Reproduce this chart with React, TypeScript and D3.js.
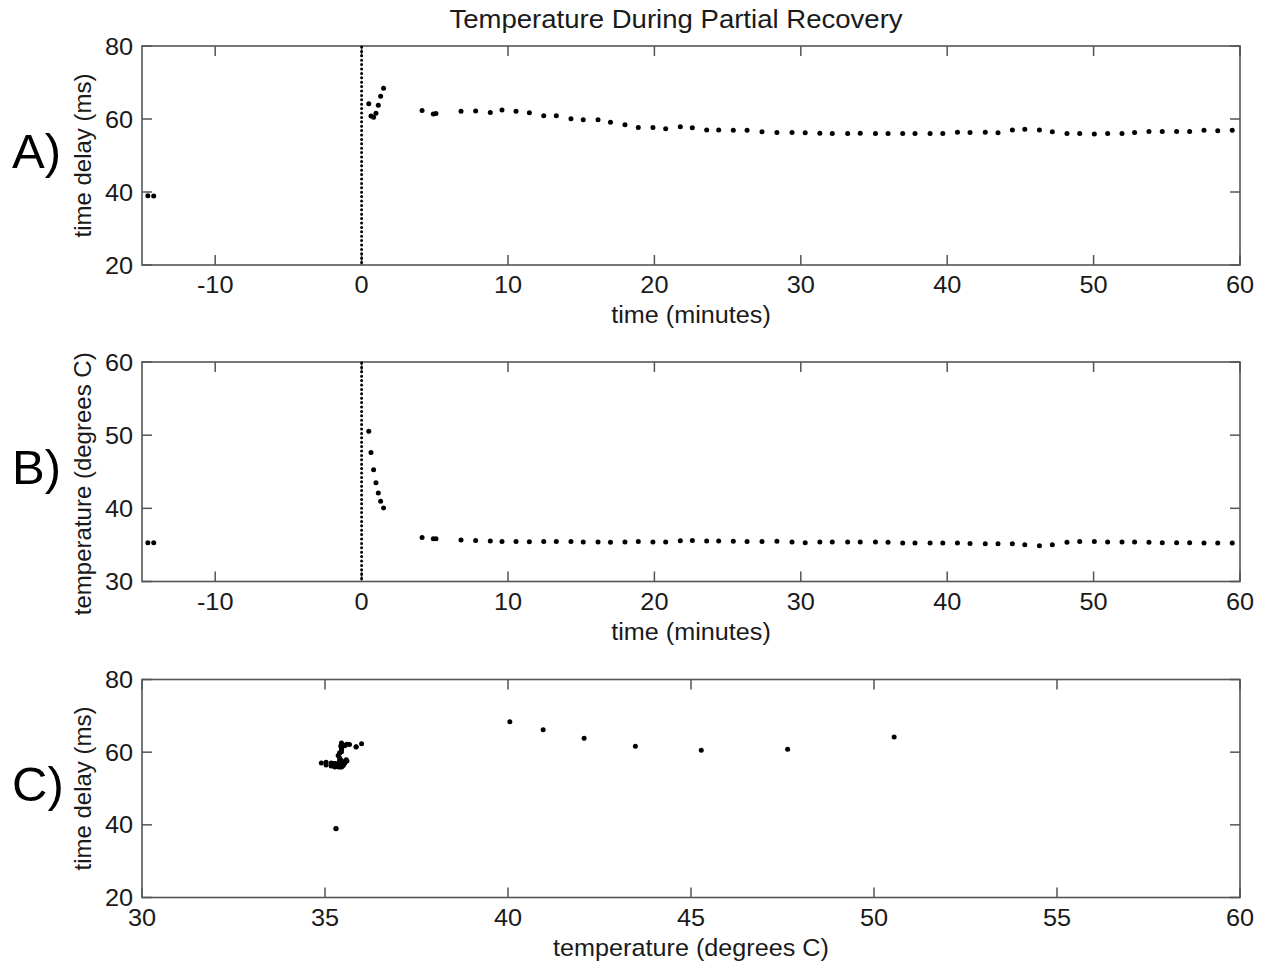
import React from "react";
import * as d3 from "d3";

// ---- data ----
const times: number[] = [
  -14.6, -14.2,
  0.49, 0.64, 0.82, 0.98, 1.14, 1.3, 1.5,
  4.13, 4.9, 5.08, 6.79, 7.79, 8.79, 9.59, 10.55, 11.46, 12.44,
  13.3, 14.3, 15.14, 16.15, 17.0, 17.99, 18.9, 19.9, 20.77, 21.77,
  22.59, 23.57, 24.39, 25.39, 26.33, 27.35, 28.37, 29.4, 30.3, 31.3,
  32.15, 33.2, 34.06, 35.1, 35.96, 36.96, 37.8, 38.83, 39.7, 40.7,
  41.56, 42.6, 43.47, 44.45, 45.3, 46.3, 47.18, 48.18, 49.05, 50.05,
  50.96, 51.94, 52.8, 53.78, 54.69, 55.67, 56.56, 57.54, 58.48, 59.47,
];

const timeDelay: number[] = [
  39.0, 38.9,
  64.2, 60.8, 60.5, 61.6, 63.8, 66.2, 68.4,
  62.3, 61.4, 61.5, 62.1, 62.2, 61.8, 62.5, 62.1, 61.7, 60.9,
  60.9, 60.1, 59.8, 59.8, 59.1, 58.4, 57.7, 57.7, 57.3, 57.9,
  57.6, 57.0, 57.0, 56.9, 56.9, 56.5, 56.3, 56.3, 56.2, 56.1,
  56.0, 56.0, 56.1, 56.0, 56.0, 56.0, 56.0, 56.0, 56.0, 56.4,
  56.3, 56.4, 56.2, 57.0, 57.2, 57.0, 56.5, 56.0, 56.0, 55.9,
  56.0, 56.0, 56.3, 56.6, 56.6, 56.6, 56.6, 56.9, 56.8, 56.9,
];

const temperature: number[] = [
  35.3, 35.3,
  50.55, 47.64, 45.28, 43.48, 42.08, 40.96, 40.05,
  36.0, 35.85, 35.85, 35.67, 35.6, 35.54, 35.45, 35.48, 35.43, 35.45,
  35.45, 35.45, 35.4, 35.4, 35.36, 35.4, 35.45, 35.4, 35.4, 35.58,
  35.6, 35.54, 35.54, 35.5, 35.45, 35.45, 35.5, 35.4, 35.3, 35.4,
  35.4, 35.4, 35.4, 35.4, 35.35, 35.27, 35.27, 35.27, 35.27, 35.27,
  35.2, 35.17, 35.17, 35.17, 35.03, 34.9, 35.03, 35.36, 35.45, 35.45,
  35.4, 35.4, 35.4, 35.36, 35.3, 35.3, 35.3, 35.27, 35.27, 35.27,
];

const timeTicks: number[] = [-10, 0, 10, 20, 30, 40, 50, 60];
const delayTicks: number[] = [20, 40, 60, 80];
const tempTicks: number[] = [30, 40, 50, 60];
const tempXTicks: number[] = [30, 35, 40, 45, 50, 55, 60];
const markerTime = 0;

const TITLE = "Temperature During Partial Recovery";

// ---- layout ----
const W = 1271;
const H = 967;
const LEFT = 142;
const RIGHT = 1240;
const FONT = "'Liberation Sans', Arial, Helvetica, sans-serif";
const AXIS_COLOR = "#555";
const TEXT_COLOR = "#1a1a1a";
const SX = 1.1; // horizontal stretch of the reference's lettering

type Pt = { x: number; y: number };

function HText(props: { x: number; y: number; size: number; anchor?: string; sx?: number; children: React.ReactNode; fill?: string }) {
  const sx = props.sx ?? SX;
  return (
    <text
      transform={`translate(${props.x},${props.y}) scale(${sx},1)`}
      textAnchor={props.anchor ?? "start"}
      fontSize={props.size}
      fontFamily={FONT}
      fill={props.fill ?? TEXT_COLOR}
    >
      {props.children}
    </text>
  );
}

interface PanelProps {
  top: number;
  bottom: number;
  xDomain: [number, number];
  yDomain: [number, number];
  xTicks: number[];
  yTicks: number[];
  points: Pt[];
  xLabel: string;
  yLabel: string;
  yLabelShift?: number;
  letter: string;
  vline?: number;
}

function Panel(p: PanelProps) {
  const x = d3.scaleLinear().domain(p.xDomain).range([LEFT, RIGHT]);
  const y = d3.scaleLinear().domain(p.yDomain).range([p.bottom, p.top]);
  const tl = 10;
  const cy = (p.top + p.bottom) / 2;
  return (
    <g>
      {p.xTicks.map((t) => (
        <g key={"xt" + t}>
          <line x1={x(t)} x2={x(t)} y1={p.bottom} y2={p.bottom - tl} stroke={AXIS_COLOR} strokeWidth={1.5} />
          <line x1={x(t)} x2={x(t)} y1={p.top} y2={p.top + tl} stroke={AXIS_COLOR} strokeWidth={1.5} />
          <HText x={x(t)} y={p.bottom + 28} size={23} anchor="middle">
            {String(t)}
          </HText>
        </g>
      ))}
      {p.yTicks.map((t) => (
        <g key={"yt" + t}>
          <line x1={LEFT} x2={LEFT + tl} y1={y(t)} y2={y(t)} stroke={AXIS_COLOR} strokeWidth={1.5} />
          <line x1={RIGHT} x2={RIGHT - tl} y1={y(t)} y2={y(t)} stroke={AXIS_COLOR} strokeWidth={1.5} />
          <HText x={133} y={y(t) + 8.5} size={23} anchor="end">
            {String(t)}
          </HText>
        </g>
      ))}
      <rect x={LEFT} y={p.top} width={RIGHT - LEFT} height={p.bottom - p.top} fill="none" stroke={AXIS_COLOR} strokeWidth={1.6} />
      {p.vline !== undefined && (
        <line
          x1={x(p.vline)}
          x2={x(p.vline)}
          y1={p.top + 1}
          y2={p.bottom}
          stroke="#000"
          strokeWidth={3}
          strokeLinecap="round"
          strokeDasharray="0 4.4"
        />
      )}
      {p.points.map((d, i) => (
        <circle key={i} cx={x(d.x)} cy={y(d.y)} r={2.5} fill="#000" />
      ))}
      <HText x={(LEFT + RIGHT) / 2} y={p.bottom + 58} size={24} anchor="middle" sx={1.05}>
        {p.xLabel}
      </HText>
      <text
        transform={`translate(91,${cy + (p.yLabelShift ?? 0)}) rotate(-90)`}
        textAnchor="middle"
        fontSize={24}
        fontFamily={FONT}
        fill={TEXT_COLOR}
      >
        {p.yLabel}
      </text>
      <HText x={12} y={cy + 12} size={49} sx={1} fill="#000">
        {p.letter}
      </HText>
    </g>
  );
}

export default function App() {
  const ptsA: Pt[] = times.map((t, i) => ({ x: t, y: timeDelay[i] }));
  const ptsB: Pt[] = times.map((t, i) => ({ x: t, y: temperature[i] }));
  const ptsC: Pt[] = temperature.map((t, i) => ({ x: t, y: timeDelay[i] }));
  return (
    <svg
      width={W}
      height={H}
      viewBox={`0 0 ${W} ${H}`}
      style={{ position: "absolute", left: 0, top: 0, background: "#fff" }}
    >
      <rect width={W} height={H} fill="#fff" />
      <HText x={676} y={28} size={26} anchor="middle" sx={1.06}>
        {TITLE}
      </HText>
      <Panel
        top={46}
        bottom={265}
        xDomain={[-15, 60]}
        yDomain={[20, 80]}
        xTicks={timeTicks}
        yTicks={delayTicks}
        points={ptsA}
        xLabel="time (minutes)"
        yLabel="time delay (ms)"
        letter="A)"
        vline={markerTime}
      />
      <Panel
        top={362}
        bottom={581.5}
        xDomain={[-15, 60]}
        yDomain={[30, 60]}
        xTicks={timeTicks}
        yTicks={tempTicks}
        points={ptsB}
        xLabel="time (minutes)"
        yLabel="temperature (degrees C)"
        yLabelShift={12}
        letter="B)"
        vline={markerTime}
      />
      <Panel
        top={679.5}
        bottom={897.5}
        xDomain={[30, 60]}
        yDomain={[20, 80]}
        xTicks={tempXTicks}
        yTicks={delayTicks}
        points={ptsC}
        xLabel="temperature (degrees C)"
        yLabel="time delay (ms)"
        letter="C)"
      />
    </svg>
  );
}
